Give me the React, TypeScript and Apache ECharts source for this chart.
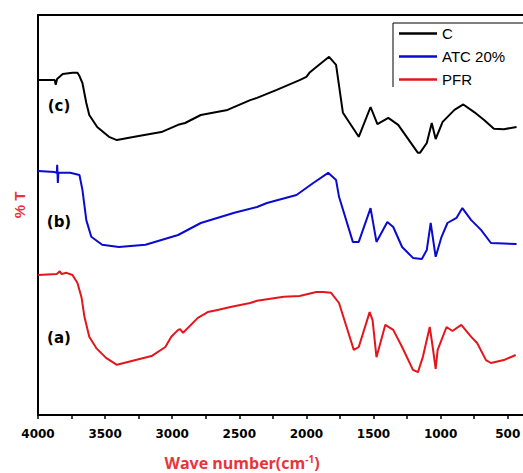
import React, { useEffect, useRef } from "react";
import * as echarts from "echarts";

// Wavenumbers (cm-1) and %T values
const waveC = [4000, 3875, 3868, 3858, 3816, 3743, 3706, 3691, 3669, 3640, 3618, 3559, 3471, 3412, 3250, 3081, 2956, 2904, 2787, 2588, 2419, 2368, 2221, 2051, 2000, 1978, 1926, 1831, 1779, 1728, 1610, 1522, 1471, 1390, 1316, 1169, 1154, 1103, 1066, 1037, 985, 897, 831, 750, 676, 603, 529, 434];
const valC = [92.1, 92.1, 90.8, 92.4, 93.8, 94.1, 94.1, 93.2, 91.3, 85.8, 82.5, 79.2, 76.5, 75.6, 76.7, 77.8, 79.8, 80.3, 82.5, 83.9, 86.6, 87.2, 89.4, 92.1, 93.0, 94.1, 95.7, 98.5, 96.3, 83.1, 76.5, 84.7, 80.0, 81.7, 79.8, 72.1, 72.1, 74.8, 80.3, 75.9, 80.6, 83.9, 85.4, 83.3, 81.1, 78.7, 78.6, 79.2];

const waveB = [4000, 3875, 3860, 3857, 3852, 3848, 3760, 3691, 3669, 3640, 3603, 3522, 3397, 3199, 2956, 2787, 2537, 2368, 2294, 2074, 1949, 1838, 1779, 1757, 1654, 1610, 1522, 1478, 1397, 1353, 1287, 1206, 1140, 1103, 1074, 1037, 993, 949, 882, 838, 772, 699, 625, 434];
const valB = [67.1, 66.8, 66.6, 68.8, 63.8, 66.6, 66.6, 66.0, 61.9, 53.6, 49.0, 46.8, 46.2, 46.8, 49.5, 52.8, 55.6, 57.2, 58.3, 60.5, 63.8, 66.6, 64.6, 60.0, 47.6, 47.6, 56.9, 47.6, 53.1, 51.7, 46.2, 43.2, 42.9, 45.4, 52.8, 43.5, 49.0, 52.8, 54.2, 56.9, 53.6, 50.9, 47.3, 47.0];

const waveA = [4000, 3860, 3838, 3825, 3787, 3743, 3706, 3676, 3654, 3618, 3566, 3493, 3412, 3272, 3154, 3051, 3007, 2956, 2941, 2919, 2809, 2735, 2662, 2566, 2419, 2368, 2169, 2051, 1926, 1875, 1816, 1757, 1706, 1647, 1610, 1529, 1507, 1478, 1412, 1353, 1287, 1206, 1169, 1132, 1081, 1059, 1037, 1022, 956, 912, 846, 772, 728, 662, 625, 529, 441];
const valA = [38.5, 38.8, 39.5, 38.8, 39.1, 38.5, 36.3, 32.4, 27.0, 21.5, 18.4, 15.7, 13.8, 15.1, 16.2, 18.7, 21.5, 23.4, 23.6, 22.6, 26.7, 28.3, 28.9, 29.7, 30.8, 31.4, 32.5, 32.7, 33.8, 33.8, 33.6, 30.8, 24.8, 17.9, 18.7, 28.3, 26.1, 15.9, 24.8, 23.4, 18.7, 12.4, 11.8, 16.0, 24.2, 18.7, 12.7, 17.9, 24.2, 23.1, 24.8, 21.5, 19.8, 15.1, 14.3, 15.1, 16.5];

const seriesNames = ["C", "ATC 20%", "PFR"];
const seriesColors = ["#000000", "#0a0ad0", "#e3161c"];
const traceLabels = ["(c)", "(b)", "(a)"];

const zip = (xs: number[], ys: number[]) => xs.map((x, i) => [x, ys[i]]);

export default function App() {
  const ref = useRef<HTMLDivElement>(null);
  useEffect(() => {
    document.body.style.margin = "0";
    if (!ref.current) return;
    const chart = echarts.init(ref.current, null, { renderer: "svg" });
    const datas = [zip(waveC, valC), zip(waveB, valB), zip(waveA, valA)];
    chart.setOption({
      animation: false,
      backgroundColor: "#ffffff",
      grid: {
        left: 38,
        top: 15,
        right: 0,
        bottom: 58,
        show: true,
        borderColor: "#000",
        borderWidth: 2,
      },
      xAxis: {
        type: "value",
        inverse: true,
        min: 0,
        max: 4000,
        interval: 500,
        axisLine: { show: true, lineStyle: { color: "#000", width: 2 } },
        axisTick: { show: true, length: 4, lineStyle: { color: "#000", width: 1.5 } },
        minorTick: { show: true, splitNumber: 2, length: 4, lineStyle: { color: "#000", width: 1.5 } },
        splitLine: { show: false },
        axisLabel: {
          margin: 13,
          color: "#000",
          fontWeight: "bold",
          fontSize: 12,
          fontFamily: "DejaVu Sans",
          formatter: (v: number) => String(v),
        },
      },
      yAxis: {
        type: "value",
        min: 0,
        max: 110,
        interval: 10,
        axisLine: { show: true, lineStyle: { color: "#000", width: 2 } },
        axisTick: { show: true, length: 4, lineStyle: { color: "#000", width: 1.5 } },
        splitLine: { show: false },
        axisLabel: { show: false },
      },
      legend: {
        orient: "vertical",
        left: 393,
        top: 23,
        data: seriesNames,
        icon: "rect",
        itemWidth: 38,
        itemHeight: 2.5,
        itemGap: 8,
        padding: [3, 24, 4, 6],
        borderColor: "#000",
        borderWidth: 1,
        backgroundColor: "#fff",
        textStyle: { color: "#000", fontSize: 15, fontFamily: "Liberation Sans" },
      },
      series: datas.map((d, i) => ({
        name: seriesNames[i],
        type: "line",
        data: d,
        symbol: "none",
        smooth: false,
        lineStyle: { color: seriesColors[i], width: 2 },
        itemStyle: { color: seriesColors[i] },
        z: 2,
      })),
      graphic: [
        {
          type: "rect",
          z: 100,
          shape: { x: 388, y: 87, width: 140, height: 8 },
          style: { fill: "#fff" },
        },
        ...traceLabels.map((t, i) => ({
          type: "text",
          z: 50,
          x: 59,
          y: [106, 222, 338][i],
          style: {
            text: t,
            fill: "#000",
            font: "bold 15px 'DejaVu Sans'",
            textAlign: "center",
            textVerticalAlign: "middle",
          },
        })),
        {
          type: "text",
          z: 50,
          x: 19,
          y: 205,
          rotation: Math.PI / 2,
          style: {
            text: "% T",
            fill: "#e8343a",
            font: "bold 15px 'Liberation Sans'",
            textAlign: "center",
            textVerticalAlign: "middle",
          },
        },
        {
          type: "text",
          z: 50,
          x: 242,
          y: 463,
          style: {
            text: "Wave number(cm{sup|-1})",
            fill: "#e8343a",
            font: "bold 16px 'Open Sans'",
            textAlign: "center",
            textVerticalAlign: "middle",
            rich: {
              sup: {
                fontSize: 10,
                fontWeight: "bold",
                fontFamily: "Open Sans",
                fill: "#e8343a",
                verticalAlign: "top",
                padding: [0, 0, 8, 0],
              },
            },
          },
        },
      ],
    });
    return () => chart.dispose();
  }, []);
  return (
    <div style={{ width: 523, height: 473, overflow: "hidden", position: "relative" }}>
      <div ref={ref} style={{ width: 582, height: 473 }} />
    </div>
  );
}
